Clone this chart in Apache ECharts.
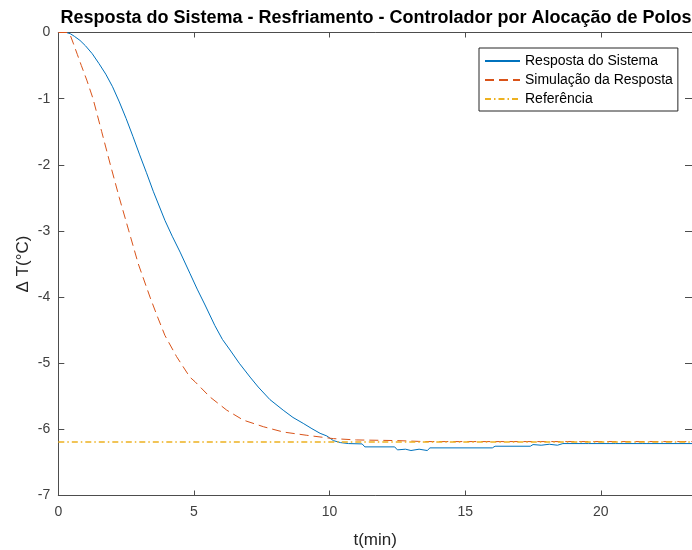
<!DOCTYPE html>
<html>
<head>
<meta charset="utf-8">
<script src="https://cdn.jsdelivr.net/npm/echarts@6/dist/echarts.min.js"></script>
<style>
html,body{margin:0;padding:0;background:#fff;}
#chart{width:692px;height:550px;}
</style>
</head>
<body>
<div id="chart"></div>
<script>
var titleText = 'Resposta do Sistema - Resfriamento - Controlador por Alocação de Polos';
var seriesNames = ['Resposta do Sistema', 'Simulação da Resposta', 'Referência'];
var xTicks = [0, 5, 10, 15, 20];
var yTicks = [-7, -6, -5, -4, -3, -2, -1, 0];

var respostaSistema = [
  [0,0],[0.3,0],[0.45,-0.02],[0.6,-0.06],[0.8,-0.12],[1.0,-0.2],[1.25,-0.32],[1.5,-0.47],[1.75,-0.63],
  [2.0,-0.82],[2.25,-1.05],[2.5,-1.3],[2.75,-1.57],[3.0,-1.85],[3.25,-2.12],[3.5,-2.4],[3.93,-2.84],[4.2,-3.08],[4.49,-3.32],[4.85,-3.64],
  [5.12,-3.88],[5.41,-4.12],[5.77,-4.43],[6.05,-4.64],[6.33,-4.8],[6.67,-5.0],[7.07,-5.21],[7.37,-5.36],[7.8,-5.55],
  [8.29,-5.71],[8.65,-5.82],[9.03,-5.91],[9.35,-5.99],[9.65,-6.06],[9.9,-6.1],[10.14,-6.17],
  [10.4,-6.2],[10.7,-6.215],[11.2,-6.22],[11.3,-6.265],[12.4,-6.265],[12.5,-6.31],[12.8,-6.3],
  [13.0,-6.32],[13.3,-6.3],[13.6,-6.32],[13.7,-6.28],[16.0,-6.28],[16.1,-6.255],[17.4,-6.255],
  [17.5,-6.23],[17.8,-6.24],[18.1,-6.225],[18.4,-6.24],[18.6,-6.215],[19.45,-6.215],[19.5,-6.235],
  [19.55,-6.215],[20.45,-6.215],[20.5,-6.235],[20.55,-6.215],[21.55,-6.215],[21.62,-6.235],
  [21.7,-6.215],[23.4,-6.215]
];
var simulacaoResposta = [
  [0,0],[0.35,0],[0.45,-0.05],[0.55,-0.16],[0.7,-0.33],[0.85,-0.5],[1.05,-0.72],[1.28,-1.0],
  [1.6,-1.5],[1.92,-2.0],[2.25,-2.5],[2.6,-3.0],[2.95,-3.5],[3.38,-4.0],[3.63,-4.27],[3.93,-4.58],
  [4.36,-4.9],[4.85,-5.21],[5.04,-5.28],[5.59,-5.51],[6.21,-5.71],[6.82,-5.86],[7.56,-5.96],
  [8.29,-6.04],[9.16,-6.09],[10.14,-6.14],[11,-6.16],[12.5,-6.17],[13.5,-6.185],[23.4,-6.185]
];
var referencia = [[0,-6.19],[23.4,-6.19]];

var FONT = '"Liberation Sans", Arial, Helvetica, sans-serif';
var AX = '#4d4d4d';
var xMin = 0, xMax = 23.36, yMin = -7, yMax = 0;

var chart = echarts.init(document.getElementById('chart'), null, {renderer:'canvas'});
var option = {
  backgroundColor: '#fff',
  animation: false,
  title: {
    text: titleText,
    left: 376, top: 9, padding: 0, textAlign: 'center',
    textStyle: {fontFamily: FONT, fontSize: 18, fontWeight: 'bold', color: '#000'}
  },
  legend: {
    orient: 'vertical', left: 479, top: 48,
    padding: [6, 5, 5, 5], itemWidth: 35, itemHeight: 14, itemGap: 5,
    borderColor: '#262626', borderWidth: 1, backgroundColor: '#fff', borderRadius: 0,
    itemStyle: {color: 'transparent', borderColor: 'transparent', borderWidth: 0, opacity: 0},
    textStyle: {fontFamily: FONT, fontSize: 14, color: '#000'},
    data: seriesNames
  },
  grid: {left: 58.3, right: 0, top: 32.5, bottom: 54.5, containLabel: false, outerBoundsMode: 'none'},
  xAxis: [{
    type: 'value', min: xMin, max: xMax, interval: 5,
    name: 't(min)', nameLocation: 'middle', nameGap: 36,
    nameTextStyle: {fontFamily: FONT, fontSize: 17, color: '#262626'},
    axisLine: {show: true, onZero: false, lineStyle: {color: AX, width: 1}},
    axisTick: {show: true, inside: true, length: 5, lineStyle: {color: AX}},
    axisLabel: {margin: 10, showMaxLabel: false, fontFamily: FONT, fontSize: 14, color: '#404040',
      formatter: function(v){ return xTicks.indexOf(v) >= 0 ? String(v) : ''; }},
    splitLine: {show: false}
  }, {
    type: 'value', position: 'top', min: xMin, max: xMax, interval: 5,
    axisLine: {show: true, onZero: false, lineStyle: {color: AX, width: 1}},
    axisTick: {show: true, inside: true, length: 5, lineStyle: {color: AX}},
    axisLabel: {show: false}, splitLine: {show: false}
  }],
  yAxis: [{
    type: 'value', min: yMin, max: yMax, interval: 1,
    name: 'Δ T(°C)', nameLocation: 'middle', nameGap: 26, nameRotate: 90, nameMoveOverlap: false,
    nameTextStyle: {fontFamily: FONT, fontSize: 17, color: '#262626'},
    axisLine: {show: true, onZero: false, lineStyle: {color: AX, width: 1}},
    axisTick: {show: true, inside: true, length: 6, lineStyle: {color: AX}},
    axisLabel: {margin: 8, fontFamily: FONT, fontSize: 14, color: '#404040',
      formatter: function(v){ return yTicks.indexOf(v) >= 0 ? String(v) : ''; }},
    splitLine: {show: false}
  }, {
    type: 'value', position: 'right', min: yMin, max: yMax, interval: 1,
    axisLine: {show: true, onZero: false, lineStyle: {color: AX, width: 1}},
    axisTick: {show: true, inside: true, length: 7, lineStyle: {color: AX}},
    axisLabel: {show: false}, splitLine: {show: false}
  }],
  series: [{
    name: seriesNames[0], type: 'line', data: respostaSistema, showSymbol: false, symbol: 'none',
    lineStyle: {color: '#0072BD', width: 1, type: 'solid'}, itemStyle: {color: '#0072BD'}
  }, {
    name: seriesNames[1], type: 'line', data: simulacaoResposta, showSymbol: false, symbol: 'none',
    lineStyle: {color: '#D95319', width: 1, type: [9, 5]}, itemStyle: {color: '#D95319'}
  }, {
    name: seriesNames[2], type: 'line', data: referencia, showSymbol: false, symbol: 'none',
    lineStyle: {color: '#EDB120', width: 1.5, type: [6, 3, 1.5, 3]}, itemStyle: {color: '#EDB120'}
  }]
};
chart.setOption(option);
</script>
</body>
</html>
